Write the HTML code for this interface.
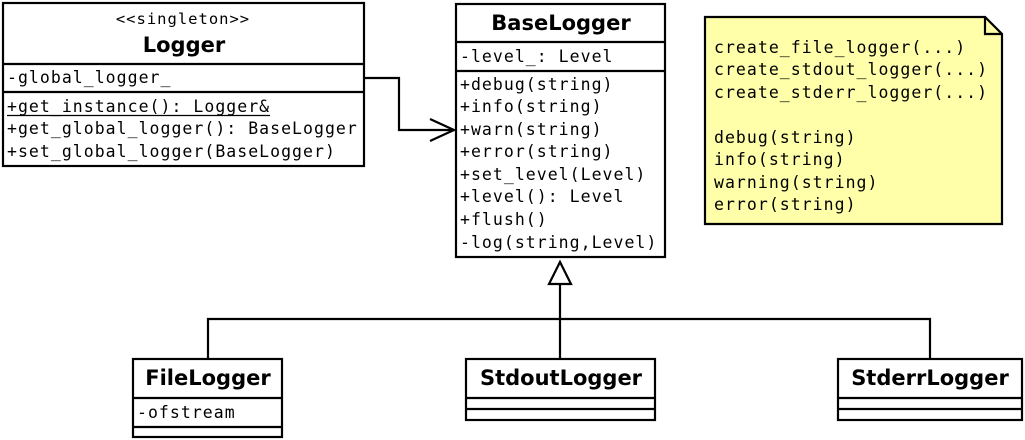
<!DOCTYPE html>
<html><head><meta charset="utf-8"><style>
html,body{margin:0;padding:0;background:#fff}
svg{display:block}
.m{font-family:"DejaVu Sans Mono","Liberation Mono",monospace;font-size:16.5px;letter-spacing:1.03px;fill:#000}
.b{font-family:"DejaVu Sans","Liberation Sans",sans-serif;font-weight:bold;font-size:21px;fill:#000}
</style></head><body>
<svg width="1025" height="440" viewBox="0 0 1025 440" xmlns="http://www.w3.org/2000/svg">
<g fill="#fff" stroke="#000" stroke-width="2.2">
<rect x="3" y="3" width="361" height="163"/>
<line x1="3" y1="64" x2="364" y2="64"/>
<line x1="3" y1="92" x2="364" y2="92"/>
<rect x="456" y="4" width="209" height="253"/>
<line x1="456" y1="42" x2="665" y2="42"/>
<line x1="456" y1="71" x2="665" y2="71"/>
<path d="M705 17 H985 L1002 34 V224 H705 Z" fill="#ffffaa"/>
<path d="M985 17 V34 H1002" fill="none"/>
<rect x="133" y="359" width="149" height="78"/>
<line x1="133" y1="398" x2="282" y2="398"/>
<line x1="133" y1="427" x2="282" y2="427"/>
<rect x="466" y="359" width="189" height="61"/>
<line x1="466" y1="398" x2="655" y2="398"/>
<line x1="466" y1="409" x2="655" y2="409"/>
<rect x="838" y="359" width="184" height="61"/>
<line x1="838" y1="398" x2="1022" y2="398"/>
<line x1="838" y1="409" x2="1022" y2="409"/>
<polyline points="364,78 399,78 399,130 454,130" fill="none"/>
<polyline points="430,119 454,130 430,141" fill="none"/>
<polyline points="208,359 208,319 930,319 930,359" fill="none"/>
<line x1="560" y1="284" x2="560" y2="359"/>
<polygon points="560,262 549,284 571,284" fill="#fff"/>
</g>
<text x="183" y="24" text-anchor="middle" style="font-family:'DejaVu Sans Mono',monospace;font-size:15.5px;letter-spacing:1px">&lt;&lt;singleton&gt;&gt;</text>
<text x="184" y="52" text-anchor="middle" class="b">Logger</text>
<text x="7" y="83" class="m">-global_logger_</text>
<text x="7" y="112" class="m">+get_instance(): Logger&amp;</text>
<line x1="7" y1="115.5" x2="270" y2="115.5" stroke="#000" stroke-width="1.3"/>
<text x="7" y="134" class="m">+get_global_logger(): BaseLogger</text>
<text x="7" y="157" class="m">+set_global_logger(BaseLogger)</text>

<text x="561" y="30" text-anchor="middle" class="b">BaseLogger</text>
<text x="460" y="62" class="m">-level_: Level</text>
<text x="460" y="90" class="m">+debug(string)</text>
<text x="460" y="112" class="m">+info(string)</text>
<text x="460" y="135" class="m">+warn(string)</text>
<text x="460" y="157" class="m">+error(string)</text>
<text x="460" y="180" class="m">+set_level(Level)</text>
<text x="460" y="202" class="m">+level(): Level</text>
<text x="460" y="225" class="m">+flush()</text>
<text x="460" y="248" class="m">-log(string,Level)</text>

<text x="714" y="53" class="m">create_file_logger(...)</text>
<text x="714" y="75" class="m">create_stdout_logger(...)</text>
<text x="714" y="98" class="m">create_stderr_logger(...)</text>
<text x="714" y="143" class="m">debug(string)</text>
<text x="714" y="165" class="m">info(string)</text>
<text x="714" y="188" class="m">warning(string)</text>
<text x="714" y="210" class="m">error(string)</text>

<text x="208" y="385" text-anchor="middle" class="b">FileLogger</text>
<text x="137" y="418" class="m">-ofstream</text>
<text x="561" y="385" text-anchor="middle" class="b">StdoutLogger</text>
<text x="930" y="385" text-anchor="middle" class="b">StderrLogger</text>
</svg>
</body></html>
